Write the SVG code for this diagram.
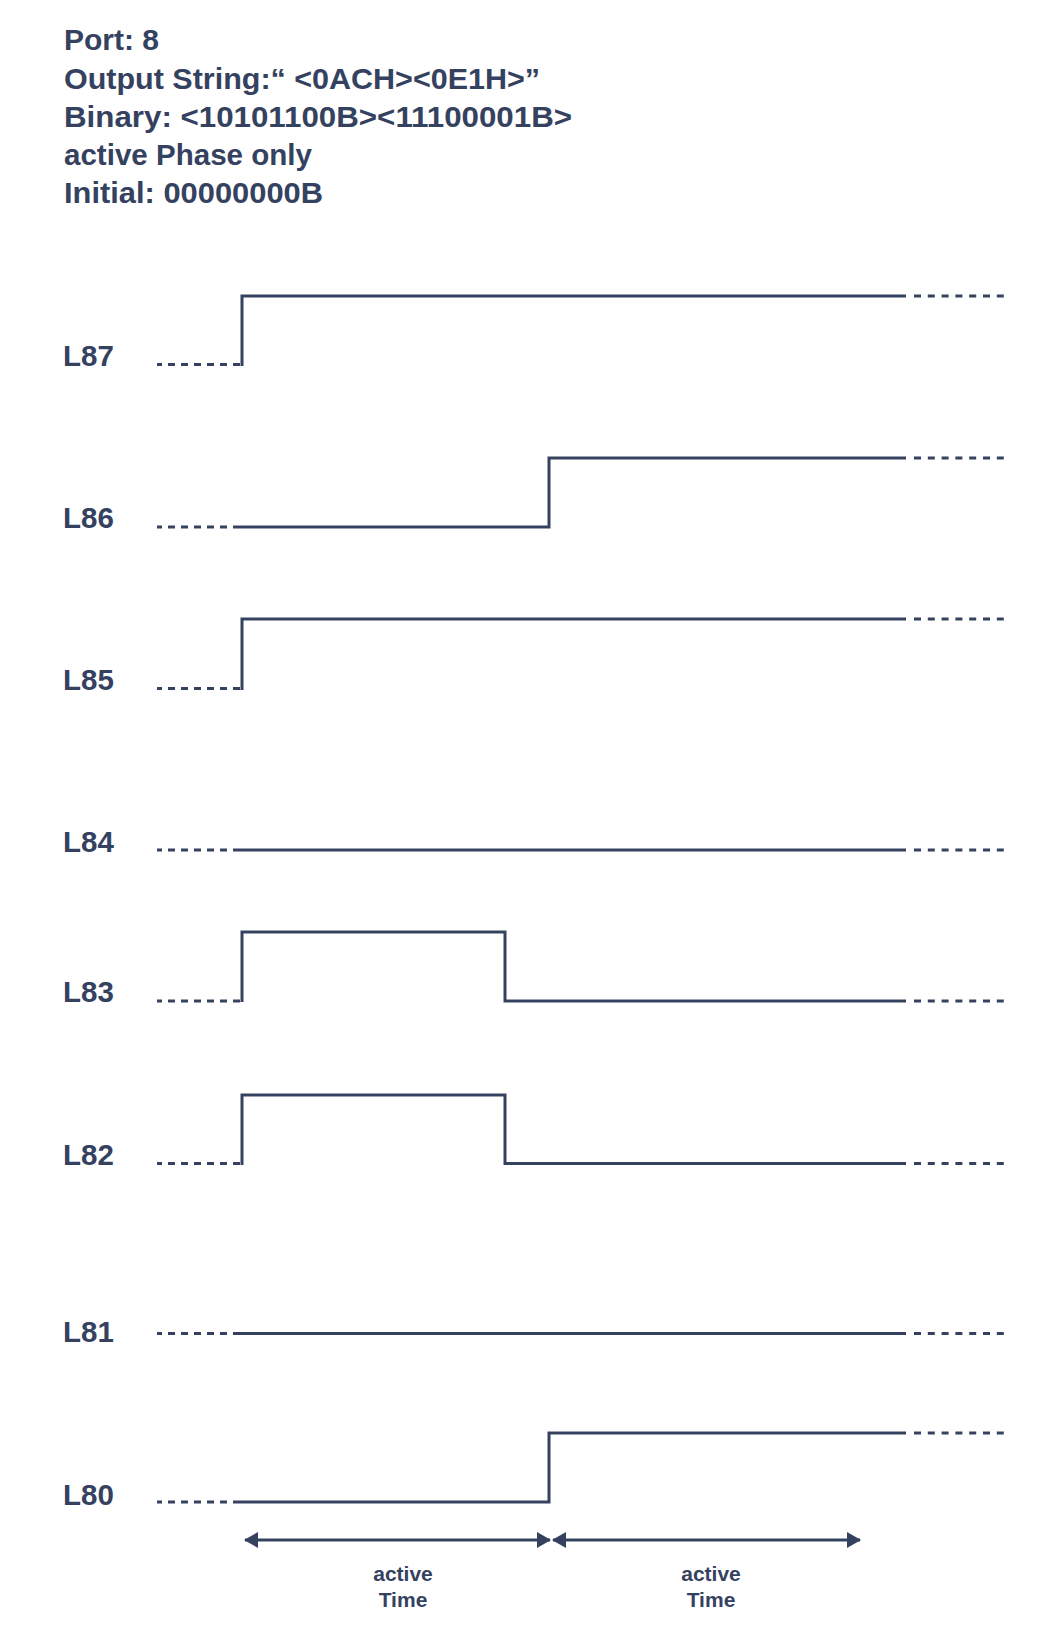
<svg xmlns="http://www.w3.org/2000/svg" width="1044" height="1652" viewBox="0 0 1044 1652">
<style>
.t{font-family:"Liberation Sans",Arial,sans-serif;font-weight:700;fill:#35425f}
.h{font-size:30px}
.lb{font-size:29.5px}
.s{font-size:21px}
.w{fill:none;stroke:#35425f;stroke-width:3;stroke-linejoin:miter}
.d{fill:none;stroke:#35425f;stroke-width:3;stroke-dasharray:7 6}
.r{fill:none;stroke:#35425f;stroke-width:3;stroke-dasharray:7 6.8}
.a{stroke:#35425f;stroke-width:3}
</style>
<defs>
<marker id="ah" viewBox="0 0 14 16" refX="13" refY="8" markerWidth="14" markerHeight="16" markerUnits="userSpaceOnUse" orient="auto-start-reverse">
<path d="M0,0 L14,8 L0,16 Z" fill="#35425f"/>
</marker>
</defs>
<g id="header">
<text class="t h" x="64" y="50">Port: 8</text>
<text class="t h" x="64" y="89" textLength="476" lengthAdjust="spacingAndGlyphs">Output String:“ &lt;0ACH&gt;&lt;0E1H&gt;”</text>
<text class="t h" x="64" y="127" textLength="508" lengthAdjust="spacingAndGlyphs">Binary: &lt;10101100B&gt;&lt;11100001B&gt;</text>
<text class="t h" x="64" y="165" textLength="248" lengthAdjust="spacingAndGlyphs">active Phase only</text>
<text class="t h" x="64" y="203" textLength="259" lengthAdjust="spacingAndGlyphs">Initial: 00000000B</text>
</g>
<g id="L87">
<text class="t lb" x="63" y="366">L87</text>
<path class="d" d="M240,364.5 H157"/>
<path class="w" d="M242,366 V296 H906"/>
<path class="r" d="M914,296 H1005"/>
</g>
<g id="L86">
<text class="t lb" x="63" y="528">L86</text>
<path class="d" d="M240,527 H157"/>
<path class="w" d="M240,527 H549 V458 H906"/>
<path class="r" d="M914,458 H1005"/>
</g>
<g id="L85">
<text class="t lb" x="63" y="690">L85</text>
<path class="d" d="M240,688.5 H157"/>
<path class="w" d="M242,690 V619 H906"/>
<path class="r" d="M914,619 H1005"/>
</g>
<g id="L84">
<text class="t lb" x="63" y="852">L84</text>
<path class="d" d="M240,850 H157"/>
<path class="w" d="M240,850 H906"/>
<path class="r" d="M914,850 H1005"/>
</g>
<g id="L83">
<text class="t lb" x="63" y="1002">L83</text>
<path class="d" d="M240,1001 H157"/>
<path class="w" d="M242,1002 V932 H505 V1001 H906"/>
<path class="r" d="M914,1001 H1005"/>
</g>
<g id="L82">
<text class="t lb" x="63" y="1165">L82</text>
<path class="d" d="M240,1163.5 H157"/>
<path class="w" d="M242,1165 V1095 H505 V1163.5 H906"/>
<path class="r" d="M914,1163.5 H1005"/>
</g>
<g id="L81">
<text class="t lb" x="63" y="1342">L81</text>
<path class="d" d="M240,1333.5 H157"/>
<path class="w" d="M240,1333.5 H906"/>
<path class="r" d="M914,1333.5 H1005"/>
</g>
<g id="L80">
<text class="t lb" x="63" y="1505">L80</text>
<path class="d" d="M240,1502 H157"/>
<path class="w" d="M240,1502 H549 V1433 H906"/>
<path class="r" d="M914,1433 H1005"/>
</g>
<g id="connectors">
<line class="a" x1="245" y1="1540" x2="550" y2="1540" marker-start="url(#ah)" marker-end="url(#ah)"/>
<line class="a" x1="553" y1="1540" x2="860" y2="1540" marker-start="url(#ah)" marker-end="url(#ah)"/>
</g>
<g id="labels">
<text class="t s" x="403" y="1581" text-anchor="middle">active</text>
<text class="t s" x="403" y="1607" text-anchor="middle">Time</text>
<text class="t s" x="711" y="1581" text-anchor="middle">active</text>
<text class="t s" x="711" y="1607" text-anchor="middle">Time</text>
</g>
</svg>
